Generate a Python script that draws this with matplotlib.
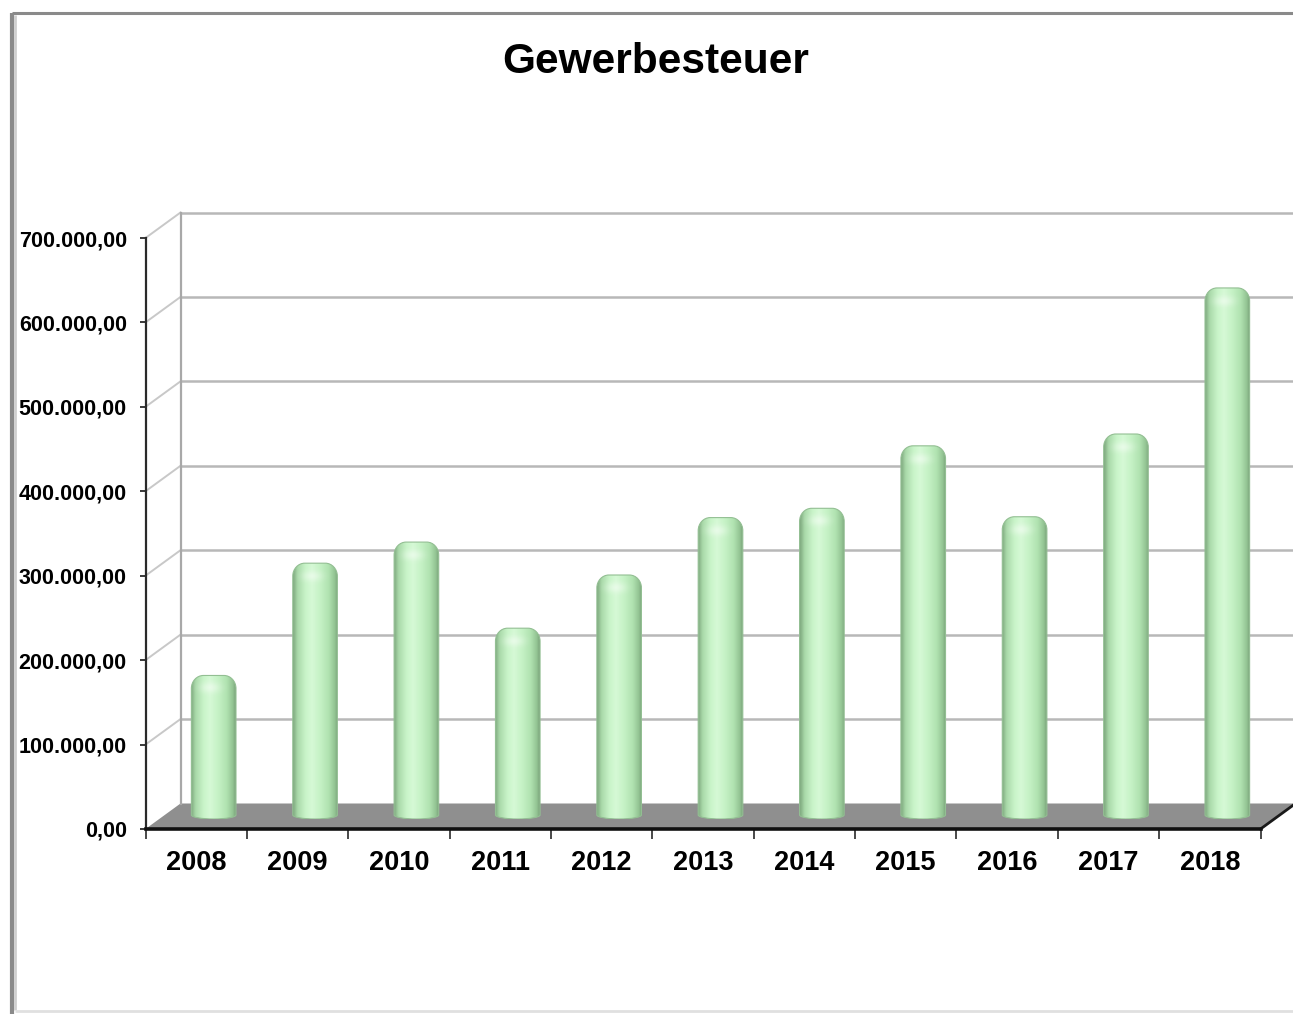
import numpy as np
import matplotlib
matplotlib.use("Agg")
import matplotlib.pyplot as plt
from matplotlib.path import Path
from matplotlib.patches import PathPatch, Polygon
from matplotlib.colors import LinearSegmentedColormap

plt.rcParams["font.family"] = ["Liberation Sans", "DejaVu Sans"]

# --- Daten ---
title = "Gewerbesteuer"
years = ["2008", "2009", "2010", "2011", "2012", "2013",
         "2014", "2015", "2016", "2017", "2018"]
values = [170000, 303000, 328000, 226000, 289000, 357000,
          368000, 442000, 358000, 456000, 629000]
y_ticks = [0, 100000, 200000, 300000, 400000, 500000, 600000, 700000]
y_tick_labels = ["0,00", "100.000,00", "200.000,00", "300.000,00",
                 "400.000,00", "500.000,00", "600.000,00", "700.000,00"]

W, H = 1293, 1014
fig = plt.figure(figsize=(W / 100, H / 100), dpi=100)

FRONT = (145.5, 238, 1260.5, 829)   # left, top, right, bottom (pixel, von oben)
DEPTH = (35, 25.5)                   # Versatz Rückwand
MID = (17.5, 10)                     # Versatz Säulen (halbe Tiefe)
XLIM = (-0.5, len(years) - 0.5)
YLIM = (0, 700000)


def px_axes(box, dx=0, dy=0, z=0):
    l, t, r, b = box
    a = fig.add_axes([(l + dx) / W, (H - b + dy) / H, (r - l) / W, (b - t) / H])
    a.set_xlim(*XLIM)
    a.set_ylim(*YLIM)
    a.set_zorder(z)
    a.patch.set_visible(False)
    return a


# Hintergrund in Pixelkoordinaten (Rahmen, Boden, Seitenwand)
bg = fig.add_axes([0, 0, 1, 1])
bg.set_xlim(0, W)
bg.set_ylim(H, 0)
bg.axis("off")
bg.set_zorder(0)

# Rahmen mit Schatten
bg.plot([11.5, W], [13, 13], color="#8a8a8a", lw=2.2, solid_capstyle="butt")
bg.plot([12, 12], [13, H], color="#8a8a8a", lw=3, solid_capstyle="butt")
bg.plot([15, 15], [15, 1010], color="#cfcfcf", lw=2, solid_capstyle="butt")
bg.plot([15, W], [1011, 1011], color="#e0e0e0", lw=2, solid_capstyle="butt")

ax = px_axes(FRONT, z=2)
back = px_axes(FRONT, DEPTH[0], DEPTH[1], z=1)
bars_ax = px_axes(FRONT, MID[0], MID[1], z=3)
back.axis("off")
bars_ax.axis("off")


def to_px(a, x, y):
    X, Y = a.transData.transform((x, y))
    return X, H - Y


# Rückwand: Gitterlinien und linke Kante
for v in y_ticks[1:]:
    back.axhline(v, color="#b8b8b8", lw=1.8, clip_on=False)
back.axvline(XLIM[0], color="#a8a8a8", lw=1.6, clip_on=False)

# Seitenwand: schräge Linien
for v in y_ticks[1:]:
    fx, fy = to_px(ax, XLIM[0], v)
    bx, by = to_px(back, XLIM[0], v)
    bg.plot([fx, bx], [fy, by], color="#c8c8c8", lw=1.4)

# Boden
fl = to_px(ax, XLIM[0], 0)
fr = to_px(ax, XLIM[1], 0)
br = to_px(back, XLIM[1], 0)
bl = to_px(back, XLIM[0], 0)
bg.add_patch(Polygon([fl, fr, br, bl], closed=True, facecolor="#8f8f8f",
                     edgecolor="none"))
bg.plot([fr[0], br[0]], [fr[1], br[1]], color="#1a1a1a", lw=2)

# Säulen (Zylinder mit Verlauf)
cyl = LinearSegmentedColormap.from_list("cyl", [
    (0.0, "#7fa97f"), (0.1, "#a9d9a9"), (0.28, "#c9f4c9"), (0.42, "#d6f9d6"),
    (0.6, "#c6f2c6"), (0.8, "#b0e2b0"), (0.93, "#94c594"), (1.0, "#7aa37a")])
inv = bars_ax.transData.inverted()
ux = inv.transform((1, 0))[0] - inv.transform((0, 0))[0]
uy = inv.transform((0, 1))[1] - inv.transform((0, 0))[1]
width = 0.44
rx, ry, rb = 12 * ux, 13 * uy, 4 * uy
k = 0.5523
grad = np.linspace(0, 1, 128)[None, :]
hx = np.linspace(-1, 1, 64)
hy = np.linspace(-1, 1, 64)
HX, HY = np.meshgrid(hx, hy)
for i, v in enumerate(values):
    x0, x1 = i - width / 2, i + width / 2
    xc = i
    verts = [
        (x0, rb), (x0, v - ry),
        (x0, v - ry + k * ry), (x0 + rx - k * rx, v), (x0 + rx, v),
        (x1 - rx, v),
        (x1 - rx + k * rx, v), (x1, v - ry + k * ry), (x1, v - ry),
        (x1, rb),
        (x1, rb - k * rb), (xc + k * width / 2, 0), (xc, 0),
        (xc - k * width / 2, 0), (x0, rb - k * rb), (x0, rb),
        (x0, rb),
    ]
    codes = ([Path.MOVETO, Path.LINETO] + [Path.CURVE4] * 3 + [Path.LINETO]
             + [Path.CURVE4] * 3 + [Path.LINETO] + [Path.CURVE4] * 6
             + [Path.CLOSEPOLY])
    patch = PathPatch(Path(verts, codes), facecolor="none",
                      edgecolor="#93bf93", lw=0.8, zorder=3)
    bars_ax.add_patch(patch)
    im = bars_ax.imshow(grad, extent=[x0, x1, 0, v], aspect="auto",
                        cmap=cyl, zorder=2, interpolation="bilinear")
    im.set_clip_path(patch)
    # Glanzlicht auf der Kappe
    alpha = 0.45 * np.exp(-((HX + 0.15) / 0.45) ** 2 - (HY / 0.4) ** 2)
    hl = np.zeros((64, 64, 4))
    hl[..., :3] = 1.0
    hl[..., 3] = alpha
    im2 = bars_ax.imshow(hl, extent=[x0, x1, v - 2 * ry, v], aspect="auto",
                         zorder=2.5, interpolation="bilinear")
    im2.set_clip_path(patch)
bars_ax.set_xlim(*XLIM)
bars_ax.set_ylim(*YLIM)

# Vordere Achsen
for s in ["top", "right"]:
    ax.spines[s].set_visible(False)
ax.spines["left"].set_color("#2a2a2a")
ax.spines["left"].set_linewidth(1.6)
ax.spines["bottom"].set_color("#111111")
ax.spines["bottom"].set_linewidth(2.6)
ax.set_yticks(y_ticks)
ax.set_yticklabels(y_tick_labels, fontsize=15.5, fontweight="bold")
ax.tick_params(axis="y", direction="out", length=4.5, width=1.3,
               color="#2a2a2a", pad=9)
ax.set_xticks(range(len(years)))
ax.set_xticklabels(years, fontsize=19.5, fontweight="bold")
ax.set_xticks(np.arange(XLIM[0], XLIM[1] + 0.01, 1), minor=True)
ax.tick_params(axis="x", which="major", length=0, pad=15)
ax.tick_params(axis="x", which="minor", direction="out", length=7,
               width=1.2, color="#2a2a2a")

fig.text(655.5 / W, 1 - 73 / H, title, ha="center", va="baseline",
         fontsize=30.5, fontweight="bold")

fig.savefig("out.png", dpi=100)
